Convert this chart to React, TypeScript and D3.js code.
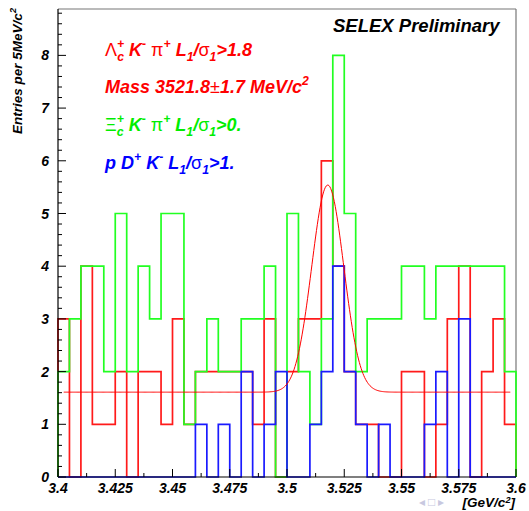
import React from 'react';
import * as d3 from 'd3';

// histogram contents, 40 bins of 5 MeV from 3.400 to 3.600 GeV
const xMin = 3.4;
const xMax = 3.6;
const binWidth = 0.005;
const redCounts = [3, 0, 4, 1, 1, 2, 0, 2, 2, 1, 3, 1, 2, 2, 2, 2, 2, 1, 3, 0, 2, 3, 3, 6, 4, 2, 1, 1, 0, 0, 2, 2, 0, 1, 3, 4, 0, 2, 3, 1];
const greenCounts = [2, 3, 4, 4, 2, 5, 2, 4, 3, 5, 5, 1, 2, 3, 2, 2, 3, 3, 4, 0, 5, 2, 1, 3, 8, 5, 2, 3, 3, 3, 4, 4, 3, 4, 4, 4, 4, 4, 4, 2];
const blueCounts = [0, 0, 0, 0, 0, 0, 0, 0, 0, 0, 0, 0, 1, 0, 1, 0, 2, 0, 1, 2, 0, 0, 1, 2, 4, 2, 1, 0, 1, 0, 0, 0, 1, 2, 0, 3, 0, 0, 0, 0];

// gaussian + flat background fit drawn on the red histogram
const fitConst = 1.61;
const fitAmp = 3.93;
const fitMean = 3.5178;
const fitSigma = 0.007;
const fitRange = [3.4025, 3.5975];

const xTicks = [3.4, 3.425, 3.45, 3.475, 3.5, 3.525, 3.55, 3.575, 3.6];
const xTickLabels = ['3.4', '3.425', '3.45', '3.475', '3.5', '3.525', '3.55', '3.575', '3.6'];
const yTicks = [0, 1, 2, 3, 4, 5, 6, 7, 8];

const W = 529;
const H = 511;
const FONT = "'Liberation Sans', Arial, Helvetica, sans-serif";

const x = d3.scaleLinear().domain([xMin, xMax]).range([58, 516]);
const y = d3.scaleLinear().domain([0, 8.88]).range([477, 9]);

function histPath(counts: number[]) {
  const pts: [number, number][] = [[xMin, 0]];
  counts.forEach((c, i) => pts.push([xMin + i * binWidth, c]));
  pts.push([xMax, counts[counts.length - 1]]);
  pts.push([xMax, 0]);
  return d3.line<[number, number]>()
    .x(d => x(d[0]))
    .y(d => y(d[1]))
    .curve(d3.curveStepAfter)(pts) || '';
}

type Run = { t: string; sup?: boolean; sub?: boolean; g?: boolean; dx?: number };

// small TLatex-like renderer: sup/sub shifts via dy, greek in upright face
function rich(runs: Run[], size: number, supRise = 0.42) {
  let cur = 0;
  return runs.map((r, i) => {
    const target = r.sup ? -supRise * size : r.sub ? 0.3 * size : 0;
    const dy = target - cur;
    cur = target;
    return (
      <tspan
        key={i}
        dy={dy || undefined}
        dx={r.dx}
        fontSize={r.sup || r.sub ? size * 0.68 : undefined}
        fontStyle={r.g ? 'normal' : undefined}
        fontWeight={r.g ? 'normal' : undefined}
      >
        {r.t}
      </tspan>
    );
  });
}

const line1: Run[] = [
  { t: 'Λ', g: true }, { t: '+', sup: true }, { t: 'c', sub: true, dx: -7 }, { t: ' K' }, { t: '-', sup: true },
  { t: ' ' }, { t: 'π', g: true }, { t: '+', sup: true }, { t: ' L' }, { t: '1', sub: true }, { t: '/' },
  { t: 'σ', g: true }, { t: '1', sub: true }, { t: '>1.8' },
];
const line2: Run[] = [{ t: 'Mass 3521.8' }, { t: '±', g: true }, { t: '1.7 MeV/c' }, { t: '2', sup: true }];
const line3: Run[] = [
  { t: 'Ξ', g: true }, { t: '+', sup: true }, { t: 'c', sub: true, dx: -7 }, { t: ' K' }, { t: '-', sup: true },
  { t: ' ' }, { t: 'π', g: true }, { t: '+', sup: true }, { t: ' L' }, { t: '1', sub: true }, { t: '/' },
  { t: 'σ', g: true }, { t: '1', sub: true }, { t: '>0.' },
];
const line4: Run[] = [
  { t: 'p D' }, { t: '+', sup: true }, { t: ' K' }, { t: '-', sup: true }, { t: ' L' }, { t: '1', sub: true },
  { t: '/' }, { t: 'σ', g: true }, { t: '1', sub: true }, { t: '>1.' },
];

export default function App() {
  const fitLine = d3.line<number>()
    .x(d => x(d))
    .y(d => y(fitConst + fitAmp * Math.exp(-((d - fitMean) ** 2) / (2 * fitSigma * fitSigma))));
  const fitXs = d3.range(0, 501).map(i => fitRange[0] + (fitRange[1] - fitRange[0]) * i / 500);

  const yMinor = d3.range(0, 45).map(i => i * 0.2).filter(v => v <= 8.88 && Math.abs(v - Math.round(v)) > 1e-6);
  const xMinor = d3.range(0, 8).map(i => 3.4125 + i * 0.025);

  const textStyle = { fontFamily: FONT, fontWeight: 'bold' as const, fontStyle: 'italic' as const };

  return (
    <svg width={W} height={H} style={{ position: 'absolute', left: 0, top: 0, background: '#fff' }}>
      {/* frame */}
      <line x1={x(xMin)} x2={x(xMax)} y1={y(8.88)} y2={y(8.88)} stroke="#777" strokeWidth={1.2} />
      <line x1={x(xMax)} x2={x(xMax)} y1={y(8.88)} y2={y(0)} stroke="#777" strokeWidth={1.2} />

      {/* histograms */}
      <path d={histPath(redCounts)} fill="none" stroke="#ff1a1a" strokeWidth={1.7} />
      <path d={histPath(greenCounts)} fill="none" stroke="#22ff22" strokeWidth={1.7} />
      <path d={histPath(blueCounts)} fill="none" stroke="#1a1aff" strokeWidth={1.7} />
      <path d={fitLine(fitXs) || ''} fill="none" stroke="#ff0000" strokeWidth={1} />

      {/* axes */}
      <line x1={x(xMin)} x2={x(xMin)} y1={y(8.88)} y2={y(0)} stroke="#000" strokeWidth={1.2} />
      <line x1={x(xMin)} x2={x(xMax)} y1={y(0)} y2={y(0)} stroke="#000" strokeWidth={1.2} />
      {yTicks.map(v => (
        <g key={'yt' + v}>
          <line x1={x(xMin)} x2={x(xMin) + 8} y1={y(v)} y2={y(v)} stroke="#000" />
          <text x={49} y={y(v)} dy="0.36em" textAnchor="end" fontSize={14} style={textStyle}>{v}</text>
        </g>
      ))}
      {yMinor.map(v => (
        <line key={'ym' + v} x1={x(xMin)} x2={x(xMin) + 4} y1={y(v)} y2={y(v)} stroke="#000" />
      ))}
      {xTicks.map((v, i) => (
        <g key={'xt' + v}>
          <line x1={x(v)} x2={x(v)} y1={y(0)} y2={y(0) - 8} stroke="#000" />
          <text x={x(v)} y={493} textAnchor="middle" fontSize={14} style={textStyle}>{xTickLabels[i]}</text>
        </g>
      ))}
      {xMinor.map(v => (
        <line key={'xm' + v} x1={x(v)} x2={x(v)} y1={y(0)} y2={y(0) - 4} stroke="#000" />
      ))}

      {/* axis titles */}
      <text transform="translate(22,8) rotate(-90)" textAnchor="end" fontSize={13.5} style={textStyle}>
        {rich([{ t: 'Entries per 5MeV/c' }, { t: '2', sup: true }], 13.5)}
      </text>
      <text x={515} y={507} textAnchor="end" fontSize={13.5} style={textStyle}>
        {rich([{ t: '[GeV/c' }, { t: '2', sup: true }, { t: ']' }], 13.5, 0.3)}
      </text>
      <text x={419} y={506} fontSize={12} fill="#c8c8e0" fontFamily={FONT} letterSpacing={3}>◂□▸</text>

      {/* labels */}
      <text x={333} y={32} fontSize={18.5} fill="#000" style={textStyle}>SELEX Preliminary</text>
      <text x={105} y={56} fontSize={18} fill="#ff0000" style={textStyle}>{rich(line1, 18)}</text>
      <text x={105} y={92.5} fontSize={18} fill="#ff0000" style={textStyle}>{rich(line2, 18)}</text>
      <text x={105} y={131} fontSize={18} fill="#00ee00" style={textStyle}>{rich(line3, 18)}</text>
      <text x={105} y={169} fontSize={18} fill="#0000ff" style={textStyle}>{rich(line4, 18)}</text>
    </svg>
  );
}
